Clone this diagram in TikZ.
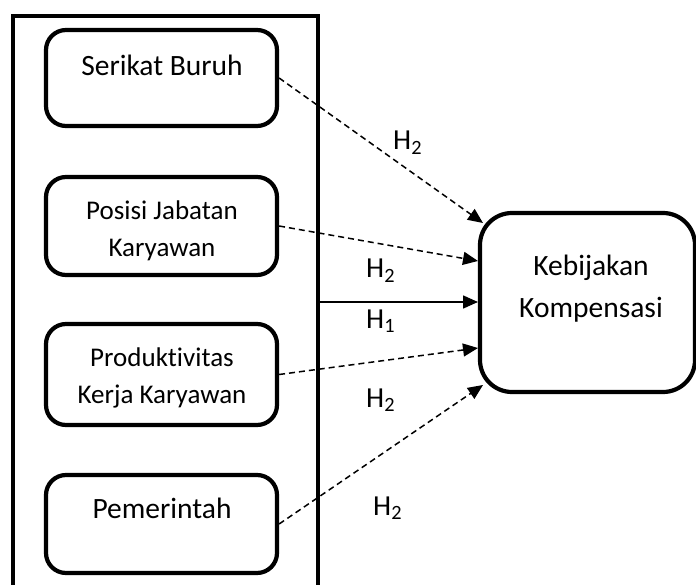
\documentclass[tikz,border=0pt]{standalone}
\usepackage{fontspec}
\setmainfont{Carlito}[Ligatures=NoCommon]
\usetikzlibrary{arrows.meta}
\begin{document}
\begin{tikzpicture}[x=1pt,y=-1pt,
  srcbox/.style={draw,line width=4.2pt,rounded corners=20pt,minimum width=231pt,inner sep=0pt},
  bigtxt/.style={font=\fontsize{29.5}{34}\selectfont,anchor=base,inner sep=0pt},
  smalltxt/.style={font=\fontsize{27}{34}\selectfont,anchor=base,inner sep=0pt},
  htxt/.style={font=\fontsize{29}{34}\selectfont,anchor=base west,inner sep=0pt},
  dasharrow/.style={line width=1.5pt,dash pattern=on 6pt off 4pt,-{Triangle[length=15pt,width=13pt]}},
  solidarrow/.style={line width=1.6pt,-{Triangle[length=15pt,width=13pt]}}]
\useasboundingbox (0,0) rectangle (696,585);
\begin{scope}
\clip (0,0) rectangle (696,585);
% outer frame (open at bottom)
\draw[line width=4.5pt] (13,600) -- (13,16) -- (318,16) -- (318,600);
% source boxes
\node[srcbox,minimum height=96pt] (sb) at (161.5,78) {};
\node[srcbox,minimum height=98pt] (pj) at (161.5,226) {};
\node[srcbox,minimum height=101pt] (pk) at (161.5,374.5) {};
\node[srcbox,minimum height=98pt] (pm) at (161.5,524) {};
% target box
\node[draw,line width=4.2pt,rounded corners=32pt,minimum width=215pt,minimum height=179pt,inner sep=0pt] (kk) at (587.5,302.5) {};
\end{scope}
% texts
\node[bigtxt] (tsb) at (162,75.5) {Serikat Buruh};
\node[smalltxt] (tpj1) at (162,220) {Posisi Jabatan};
\node[smalltxt] (tpj2) at (162,257) {Karyawan};
\node[smalltxt] (tpk1) at (162,366) {Produktivitas};
\node[smalltxt] (tpk2) at (162,403) {Kerja Karyawan};
\node[bigtxt] (tpm) at (162,518) {Pemerintah};
\node[bigtxt] (tkk1) at (591,276) {Kebijakan};
\node[bigtxt] (tkk2) at (591,317) {Kompensasi};
% arrow end points
\coordinate (t1) at (483,223);
\coordinate (t2) at (478,261);
\coordinate (s3) at (320,302);
\coordinate (t3) at (478,302);
\coordinate (t4) at (478,348);
\coordinate (t5) at (483,385);
% connectors
\draw[dasharrow] (sb.east) -- (t1);
\draw[dasharrow] (pj.east) -- (t2);
\draw[solidarrow] (s3) -- (t3);
\draw[dasharrow] (pk.east) -- (t4);
\draw[dasharrow] (pm.east) -- (t5);
% labels
\node[htxt] (h1) at (393,150) {H\textsubscript{2}};
\node[htxt] (h2) at (366,278) {H\textsubscript{2}};
\node[htxt] (h3) at (366,328) {H\textsubscript{1}};
\node[htxt] (h4) at (366,407) {H\textsubscript{2}};
\node[htxt] (h5) at (373,515) {H\textsubscript{2}};
\end{tikzpicture}
\end{document}
